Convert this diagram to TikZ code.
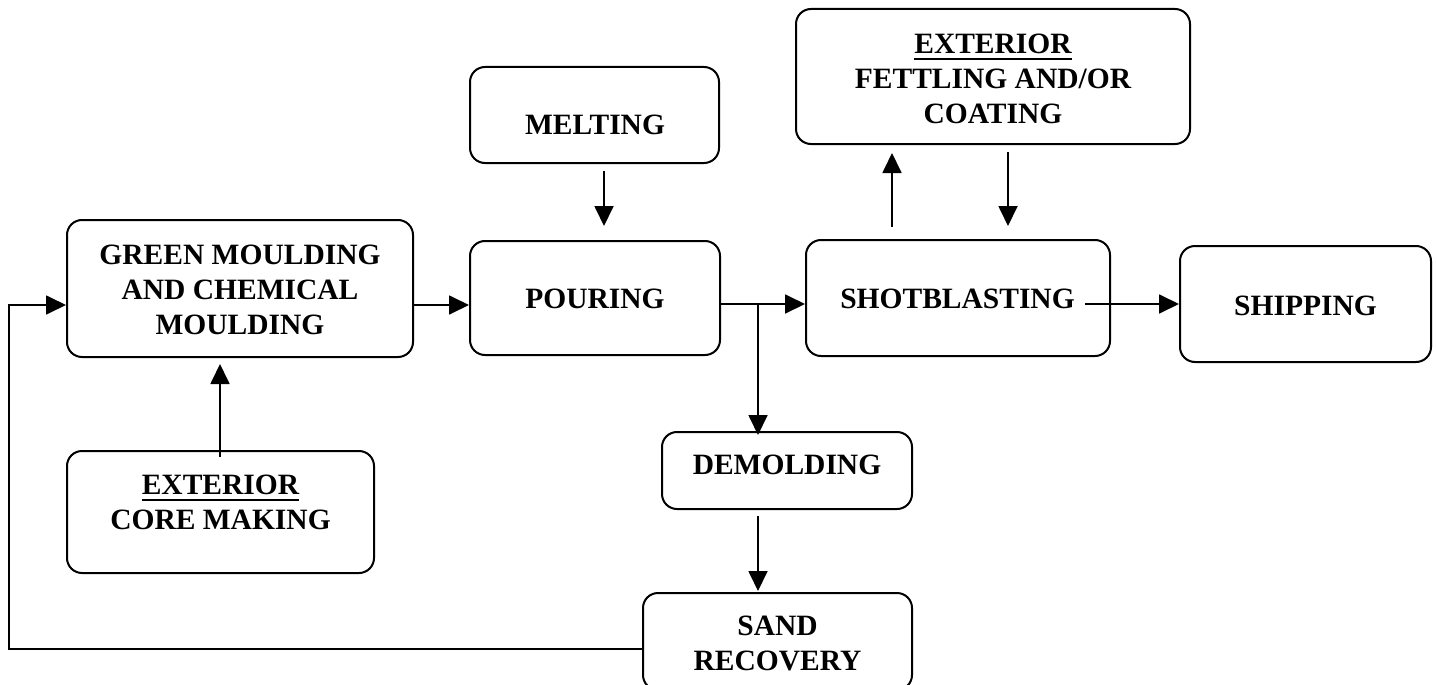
\documentclass[tikz,border=0pt]{standalone}
\usepackage{fontspec}
\setmainfont{Liberation Serif}
\usetikzlibrary{arrows.meta,calc}
\newsavebox\ulbox
\newcommand\ulword[1]{\sbox\ulbox{#1}\rlap{\rule[-6.5pt]{\wd\ulbox}{2.2pt}}\usebox\ulbox}
\tikzset{
  box/.style={draw, line width=2pt, rounded corners=15pt, inner sep=0pt},
  lbl/.style={font=\fontsize{29.5pt}{35pt}\selectfont\bfseries, align=center, inner sep=0pt},
  arr/.style={line width=1.8pt, -{Triangle[length=20pt,width=19pt]}}
}
\begin{document}
\begin{tikzpicture}[x=1pt,y=-1pt]
\useasboundingbox (0,0) rectangle (1437,685);
% boxes
\node[box, minimum width=346pt, minimum height=137pt] (green) at (240,288.5) {};
\node[box, minimum width=250pt, minimum height=114pt] (pouring) at (595,298) {};
\node[box, minimum width=249pt, minimum height=96pt] (melting) at (594.5,115) {};
\node[box, minimum width=394pt, minimum height=135pt] (fettling) at (993,76.5) {};
\node[box, minimum width=304pt, minimum height=116pt] (shot) at (958,298) {};
\node[box, minimum width=251pt, minimum height=116pt] (ship) at (1305.5,304) {};
\node[box, minimum width=250pt, minimum height=77pt] (demold) at (787,470.5) {};
\node[box, minimum width=307pt, minimum height=122pt] (core) at (220.5,512) {};
\node[box, minimum width=269pt, minimum height=97pt] (sand) at (777.5,641.5) {};
% labels
\node[lbl] (greent) at (240,289.5) {GREEN MOULDING\\AND CHEMICAL\\MOULDING};
\node[lbl] (pouringt) at (595,298.5) {POURING};
\node[lbl] (meltingt) at (595,125) {MELTING};
\node[lbl] (fettlingt) at (993,79) {\ulword{EXTERIOR}\\FETTLING AND/OR\\COATING};
\node[lbl] (shott) at (957.5,298.5) {SHOTBLASTING};
\node[lbl] (shipt) at (1305.5,306) {SHIPPING};
\node[lbl] (demoldt) at (787,464.5) {DEMOLDING};
\node[lbl] (coret) at (220.5,502.5) {\ulword{EXTERIOR}\\CORE MAKING};
\node[lbl] (sandt) at (777.5,643) {SAND\\RECOVERY};
% helper coordinates
\coordinate (rowA) at (0,305);
\coordinate (rowB) at (0,304);
\coordinate (rowS) at (0,649);
\coordinate (colM) at (604,0);
\coordinate (colC) at (220,0);
\coordinate (colU) at (892,0);
\coordinate (colV) at (1008,0);
\coordinate (colL) at (9,0);
\coordinate (split) at (758,304);
% connectors
\draw[arr] (green.east |- rowA) -- (pouring.west |- rowA);
\draw[arr, shorten <=7pt, shorten >=14pt] (melting.south -| colM) -- (pouring.north -| colM);
\draw[arr] (pouring.east |- rowB) -- (shot.west |- rowB);
\draw[arr, shorten >=-4pt] (split) -- (demold.north -| split);
\draw[arr, shorten <=6pt, shorten >=1pt] (demold.south -| split) -- (sand.north -| split);
\draw[arr] (sand.west |- rowS) -| (colL |- rowA) -- (green.west |- rowA);
\draw[arr, shorten <=-7pt, shorten >=6pt] (core.north -| colC) -- (green.south -| colC);
\draw[arr, shorten <=12pt, shorten >=8pt] (shot.north -| colU) -- (fettling.south -| colU);
\draw[arr, shorten <=7pt, shorten >=13pt] (fettling.south -| colV) -- (shot.north -| colV);
\draw[arr, shorten <=-26pt] (shot.east |- rowB) -- (ship.west |- rowB);
\end{tikzpicture}
\end{document}
